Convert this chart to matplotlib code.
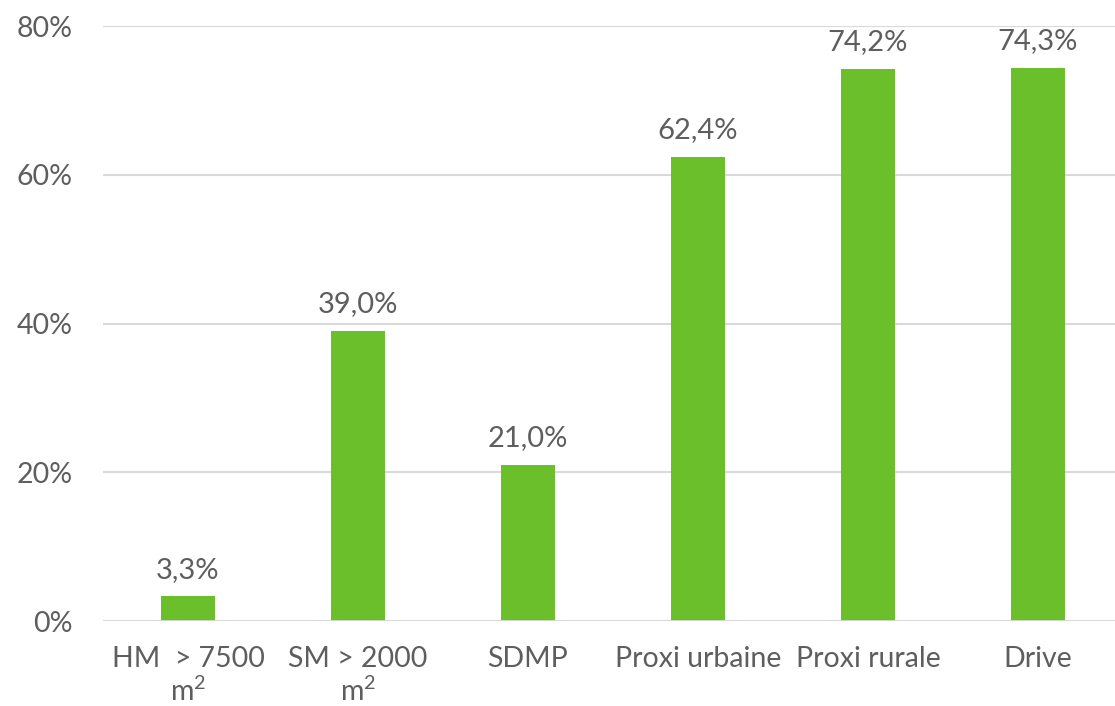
import matplotlib
matplotlib.use("Agg")
import matplotlib.pyplot as plt
import numpy as np

categories = ["HM  > 7500\nm$^2$", "SM > 2000\nm$^2$", "SDMP", "Proxi urbaine", "Proxi rurale", "Drive"]
values = [3.3, 39.0, 21.0, 62.4, 74.2, 74.3]
yticks = [0, 20, 40, 60, 80]

plt.rcParams['font.family'] = ['Lato', 'DejaVu Sans']
plt.rcParams['mathtext.fontset'] = 'custom'
plt.rcParams['mathtext.rm'] = 'Lato'
plt.rcParams['mathtext.it'] = 'Lato'
plt.rcParams['mathtext.default'] = 'regular'

TEXT = "#5e5e5e"
GREEN = "#6abf2a"
GRID = "#d9d9d9"

fig = plt.figure(figsize=(11.15, 7.06), dpi=100)
ax = fig.add_axes([103 / 1115, 85 / 706, 1020 / 1115, 595 / 706])

x = np.arange(len(categories))
ax.bar(x, values, width=0.315, color=GREEN, zorder=3)

for xi, v in zip(x, values):
    ax.annotate(f"{v:.1f}%".replace(".", ","), (xi, v), xytext=(0, 10),
                textcoords="offset points", ha="center", va="bottom",
                fontsize=21, color=TEXT)

ax.set_xlim(-0.5, len(categories) - 0.5)
ax.set_ylim(0, 80)
ax.set_yticks(yticks)
ax.set_yticklabels([f"{t}%" for t in yticks])
ax.set_xticks(x)
ax.set_xticklabels(categories, linespacing=1.2)
ax.tick_params(axis="both", length=0, labelsize=20.5, colors=TEXT)
ax.tick_params(axis="y", pad=22)
ax.tick_params(axis="x", pad=18)

ax.grid(axis="y", color=GRID, linewidth=1.5, zorder=0)
for s in ax.spines.values():
    s.set_visible(False)
ax.axhline(0, color=GRID, linewidth=2, zorder=4)

fig.savefig("out.png", dpi=100)
